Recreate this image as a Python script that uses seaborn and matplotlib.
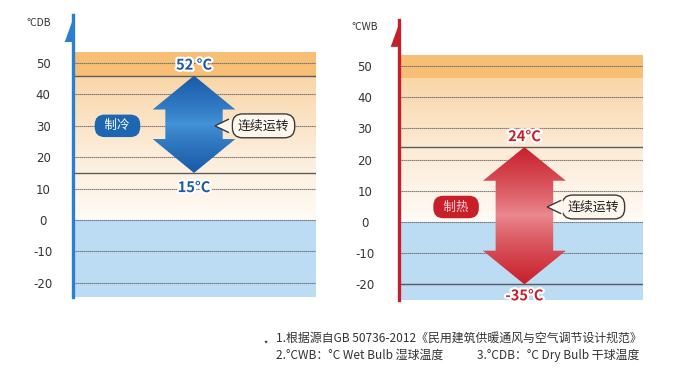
import matplotlib
matplotlib.use("Agg")
import matplotlib.pyplot as plt
import matplotlib.patheffects as pe
from matplotlib.patches import Polygon
from matplotlib.colors import LinearSegmentedColormap
import numpy as np
import pandas as pd
import seaborn as sns

# ==========================================
# Data
# ==========================================
tick_values = [-20, -10, 0, 10, 20, 30, 40, 50]
tick_labels = ["-20", "-10", "0", "10", "20", "30", "40", "50"]

cool_unit = "°CDB"
cool_ends = [15, 46]              # arrow tips as drawn in the picture
cool_end_labels = ["15°C", "52 °C"]
cool_mode = "制冷"

heat_unit = "°CWB"
heat_ends = [-20, 24]
heat_end_labels = ["-35°C", "24°C"]
heat_mode = "制热"

run_text = "连续运转"
band_range = [46, 53.5]           # dark orange band at the top

notes = [
    "1.根据源自GB 50736-2012《民用建筑供暖通风与空气调节设计规范》",
    "2.°CWB：°C Wet Bulb 湿球温度",
    "3.°CDB：°C Dry Bulb 干球温度",
]

sns.set_theme(style="white")
plt.rcParams['font.family'] = ['Noto Sans CJK SC', 'DejaVu Sans']

fig = plt.figure(figsize=(6.73, 3.8), dpi=100)
ax1 = fig.add_axes([73/673, 1-297/380, 243/673, 282/380])
ax2 = fig.add_axes([399/673, 1-300/380, 244/673, 280/380])

bg_cmap = LinearSegmentedColormap.from_list("bg", ["#fffbf6", "#fcebd6", "#f9d6a8"])


# ==========================================
# Panel
# ==========================================
def draw_panel(ax, ylim, axis_color, unit, ends, end_labels, low_off,
               arrow_x, colors, mode, mode_color, mode_text_color, mode_xy,
               bubble_xy, tip_x, tick_pad):
    ax.set_xlim(0, 1)
    ax.set_ylim(*ylim)

    # background: blue below zero, fading orange above
    ax.axhspan(ylim[0], 0, color="#bcdcf3", zorder=0, lw=0)
    grad = np.linspace(0, 1, 256).reshape(-1, 1)
    ax.imshow(grad, cmap=bg_cmap, aspect="auto", origin="lower",
              extent=[0, 1, 0, band_range[0]], zorder=0)
    ax.axhspan(band_range[0], band_range[1], color="#f7bf76", zorder=0, lw=0)

    # horizontal lines through seaborn
    grid = pd.DataFrame({"x": [0, 1] * len(tick_values),
                         "y": np.repeat(tick_values, 2),
                         "lvl": np.repeat(tick_values, 2)})
    sns.lineplot(data=grid, x="x", y="y", units="lvl", estimator=None,
                 color="#6b6b6b", lw=0.8, ls=(0, (1.2, 0.6)), ax=ax, zorder=1)
    ends_df = pd.DataFrame({"x": [0, 1] * len(ends),
                            "y": np.repeat(ends, 2),
                            "lvl": np.repeat(ends, 2)})
    sns.lineplot(data=ends_df, x="x", y="y", units="lvl", estimator=None,
                 color="#5c5c5c", lw=1.0, ax=ax, zorder=1)

    # double arrow with vertical gradient (dark tips, light middle)
    lo, hi = ends
    head = 10.8
    hw, sw = 0.17, 0.118
    pts = [(arrow_x, hi), (arrow_x + hw, hi - head), (arrow_x + sw, hi - head),
           (arrow_x + sw, lo + head), (arrow_x + hw, lo + head), (arrow_x, lo),
           (arrow_x - hw, lo + head), (arrow_x - sw, lo + head),
           (arrow_x - sw, hi - head), (arrow_x - hw, hi - head)]
    poly = Polygon(pts, closed=True, fc="none", ec="none")
    ax.add_patch(poly)
    cm = LinearSegmentedColormap.from_list("arr", [colors[1], colors[0]])
    g = np.abs(np.linspace(-1, 1, 256)).reshape(-1, 1) ** 0.8
    im = ax.imshow(g, cmap=cm, aspect="auto", origin="lower",
                   extent=[arrow_x - hw, arrow_x + hw, lo, hi], zorder=3)
    im.set_clip_path(poly)

    # end labels
    stroke = [pe.withStroke(linewidth=3, foreground="white")]
    ax.text(arrow_x, hi + 3.5, end_labels[1], ha="center", va="center",
            fontsize=10.5, fontweight="bold", color=colors[0],
            path_effects=stroke, zorder=6)
    ax.text(arrow_x, lo - low_off, end_labels[0], ha="center", va="center",
            fontsize=10.5, fontweight="bold", color=colors[0],
            path_effects=stroke, zorder=6, clip_on=False)

    # mode badge
    ax.text(mode_xy[0], mode_xy[1], "  " + mode + "  ", ha="center", va="center",
            fontsize=9, color=mode_text_color, zorder=5,
            bbox=dict(boxstyle="round,pad=0.38,rounding_size=0.8",
                      fc=mode_color, ec="none"))

    # speech bubble
    ax.text(bubble_xy[0], bubble_xy[1], run_text, ha="center", va="center",
            fontsize=9.3, color="#222222", zorder=5,
            bbox=dict(boxstyle="round,pad=0.42,rounding_size=0.8",
                      fc="#fdf7ee", ec="#3a3a3a", lw=1.0))
    by = bubble_xy[1]
    base_x = tip_x + 0.068
    tri = Polygon([(tip_x, by), (base_x, by + 2.1), (base_x, by - 2.1)],
                  closed=True, fc="#fdf7ee", ec="none", zorder=6)
    ax.add_patch(tri)
    ax.plot([base_x - 0.012, tip_x, base_x - 0.012], [by + 2.1, by, by - 2.1],
            color="#3a3a3a", lw=1.0, zorder=7, solid_joinstyle="miter")

    # axis: thick left spine with half arrow head
    sns.despine(ax=ax, top=True, right=True, bottom=True)
    ax.spines["left"].set_color(axis_color)
    ax.spines["left"].set_linewidth(2.4)
    ax.spines["left"].set_zorder(8)
    top = ylim[1]
    ax.add_patch(Polygon([(0.006, top), (-0.034, top - 8.6), (0.006, top - 8.6)],
                         closed=True, fc=axis_color, ec="none",
                         clip_on=False, zorder=9))
    ax.set_xticks([])
    ax.set_yticks(tick_values)
    ax.set_yticklabels(tick_labels, fontsize=8.5, color="#333333",
                       family=['DejaVu Sans'])
    ax.tick_params(axis="y", length=0, pad=tick_pad)
    for lbl in ax.get_yticklabels():
        lbl.set_ha("center")
    ax.set_xlabel("")
    ax.set_ylabel("")
    ax.text(-0.14, top - 2.4, unit, ha="center", va="center",
            fontsize=7.5, color="#333333", clip_on=False)


draw_panel(ax1, (-24.5, 65.3), "#2a7fd0", cool_unit, cool_ends, cool_end_labels,
           4.5, 0.498, ["#1a5aa6", "#4392d8"], cool_mode, "#1c66b2", "white",
           (0.183, 30), (0.784, 30), 0.584, 21.5)
draw_panel(ax2, (-25, 64.7), "#c41f2b", heat_unit, heat_ends, heat_end_labels,
           3.5, 0.514, ["#c8202b", "#ea8a90"], heat_mode, "#c8202b", "#f7d3d5",
           (0.234, 4.8), (0.797, 4.8), 0.607, 24.5)

# ==========================================
# Footnotes
# ==========================================
fig.text(266/673, 1-341/380, "⋆", fontsize=7, color="#222222",
         va="center", ha="center", family=['DejaVu Sans'])
fig.text(276/673, 1-338/380, notes[0], fontsize=8.6, color="#333333", va="center")
fig.text(276/673, 1-355/380, notes[1], fontsize=8.6, color="#333333", va="center")
fig.text(477/673, 1-355/380, notes[2], fontsize=8.6, color="#333333", va="center")

fig.savefig("out.png", dpi=100)
